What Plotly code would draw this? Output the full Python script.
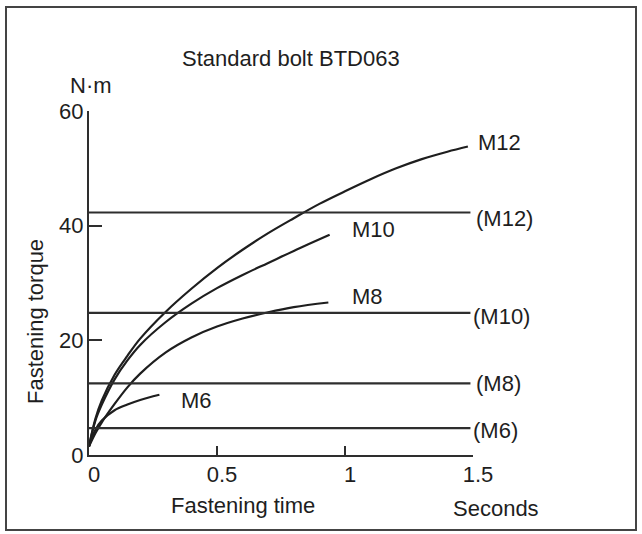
import plotly.graph_objects as go

# ---- data ----
m12_t = [0, 0.025, 0.05, 0.10, 0.15, 0.20, 0.30, 0.40, 0.50, 0.60, 0.70, 0.80, 0.90, 1.00, 1.10, 1.20, 1.30, 1.40, 1.48]
m12_v = [1.5, 6.3, 9.5, 14.0, 17.3, 20.3, 25.0, 29.0, 32.6, 35.8, 38.7, 41.3, 43.8, 46.0, 48.1, 50.0, 51.6, 52.9, 53.8]

m10_t = [0, 0.025, 0.05, 0.10, 0.15, 0.20, 0.30, 0.40, 0.50, 0.60, 0.70, 0.80, 0.94]
m10_v = [1.5, 6.0, 8.8, 13.2, 16.5, 19.2, 23.2, 26.4, 29.1, 31.4, 33.5, 35.6, 38.4]

m8_t = [0, 0.025, 0.05, 0.10, 0.15, 0.20, 0.30, 0.40, 0.50, 0.60, 0.70, 0.80, 0.935]
m8_v = [1.5, 3.8, 5.7, 8.9, 11.8, 14.2, 17.9, 20.5, 22.4, 23.8, 24.9, 25.8, 26.6]

m6_t = [0, 0.025, 0.05, 0.10, 0.15, 0.20, 0.275]
m6_v = [1.5, 4.4, 6.0, 7.8, 8.8, 9.6, 10.5]

limit_names = ["(M12)", "(M10)", "(M8)", "(M6)"]
limit_values = [42.3, 24.8, 12.5, 4.7]
limit_t_end = 1.49

x_ticks = [0, 0.5, 1, 1.5]
x_tick_text = ["0", "0.5", "1", "1.5"]
y_ticks = [0, 20, 40, 60]
y_tick_text = ["0", "20", "40", "60"]

title_text = "Standard bolt BTD063"
y_unit = "N·m"
x_title = "Fastening time"
x_unit = "Seconds"
y_title = "Fastening torque"

# ---- layout constants ----
W, H = 642, 534
ML, MR, MT, MB = 89, 169, 111, 79
PW, PH = W - ML - MR, H - MT - MB
FONT = "Liberation Sans, Arial, Helvetica, sans-serif"
INK = "#1e1e1e"
LINE = "#2e2e2e"
FS = 22


def paper(X, Y):
    return (X - ML) / PW, (H - MB - Y) / PH


fig = go.Figure()

curves = [("M12", m12_t, m12_v, 8, 4),
          ("M10", m10_t, m10_v, 20, 5),
          ("M8", m8_t, m8_v, 22, 6),
          ("M6", m6_t, m6_v, 20, -6)]

for name, t, v, dx, dy in curves:
    fig.add_trace(go.Scatter(x=t, y=v, mode="lines",
                             line=dict(color=INK, width=2.2, shape="spline", smoothing=1.0),
                             showlegend=False, hoverinfo="skip"))
    fig.add_annotation(x=t[-1], y=v[-1], text=name, showarrow=False, xanchor="left", yanchor="middle",
                       xshift=dx, yshift=dy, font=dict(family=FONT, size=FS, color=INK))

limit_shifts = [(4, -6), (1, -4), (4, 0), (1, -2)]
for name, val, (dx, dy) in zip(limit_names, limit_values, limit_shifts):
    fig.add_trace(go.Scatter(x=[0, limit_t_end], y=[val, val], mode="lines", line=dict(color=LINE, width=2.2),
                             showlegend=False, hoverinfo="skip"))
    fig.add_annotation(x=limit_t_end, y=val, text=name, showarrow=False, xanchor="left", yanchor="middle",
                       xshift=dx, yshift=dy, font=dict(family=FONT, size=FS, color=INK))

# free texts
texts = [(title_text, 291, 59, 0), (y_unit, 91, 85, 0), (x_title, 243, 505, 0), (x_unit, 496, 508, 0),
         (y_title, 35, 322, -90)]
for txt, X, Y, ang in texts:
    px, py = paper(X, Y)
    fig.add_annotation(x=px, y=py, xref="paper", yref="paper", text=txt, showarrow=False, textangle=ang,
                       xanchor="center", yanchor="middle", font=dict(family=FONT, size=FS, color=INK))

# outer border
x0, y0 = paper(6, 530)
x1, y1 = paper(636, 7)
fig.add_shape(type="rect", xref="paper", yref="paper", x0=x0, y0=y0, x1=x1, y1=y1,
              line=dict(color="#444444", width=2), layer="above")

fig.update_layout(
    width=W, height=H, margin=dict(l=ML, r=MR, t=MT, b=MB),
    paper_bgcolor="white", plot_bgcolor="white",
    font=dict(family=FONT, size=FS, color=INK),
    xaxis=dict(range=[0, 1.5], tickvals=x_ticks, ticktext=x_tick_text, ticks="inside", ticklen=9,
               tickwidth=2, tickcolor=LINE, showline=True, linewidth=2.2, linecolor=LINE, showgrid=False,
               zeroline=False, ticklabelstandoff=-2, ticklabelshift=5, fixedrange=True),
    yaxis=dict(range=[0, 60], tickvals=y_ticks, ticktext=y_tick_text, ticks="inside", ticklen=13,
               tickwidth=2, tickcolor=LINE, showline=True, linewidth=2.2, linecolor=LINE, showgrid=False,
               zeroline=False, ticklabelstandoff=-1, fixedrange=True),
)

fig.write_html("out.html")
